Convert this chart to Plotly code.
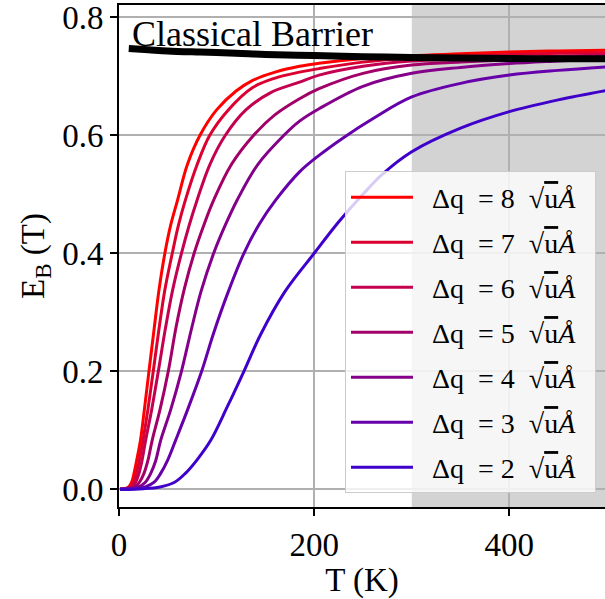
import plotly.graph_objects as go

# ---- data ----
dq_labels = ["8", "7", "6", "5", "4", "3", "2"]
colors = ["#ff0000", "#dc0030", "#c40050", "#a20068", "#84008a", "#6600aa", "#3f00cc"]

T8 = [1, 6, 10, 13, 15.4, 18, 22, 26, 30.7, 36, 41, 47, 53, 60, 70, 83, 100, 120, 137, 160, 185, 205, 250, 300, 350, 400, 450, 500]
E8 = [0, 0.001, 0.004, 0.012, 0.027, 0.048, 0.083, 0.135, 0.2, 0.272, 0.338, 0.4, 0.448, 0.49, 0.55, 0.6, 0.643, 0.675, 0.693, 0.707, 0.717, 0.722, 0.730, 0.735, 0.738, 0.741, 0.743, 0.744]

T7 = [1, 7, 11.5, 15, 17.8, 20.7, 24.6, 29.6, 35.1, 41, 47, 54.6, 61, 68, 80, 93, 112, 137, 160, 185, 205, 250, 300, 350, 400, 450, 500]
E7 = [0, 0.001, 0.004, 0.012, 0.027, 0.048, 0.083, 0.135, 0.2, 0.272, 0.338, 0.4, 0.448, 0.49, 0.55, 0.6, 0.643, 0.681, 0.697, 0.707, 0.713, 0.724, 0.731, 0.734, 0.737, 0.739, 0.740]

T6 = [1, 8, 13, 17, 20.5, 23.5, 27.3, 33.5, 40.3, 47.5, 55, 64, 72, 80, 93, 109, 130, 155, 185, 205, 250, 300, 350, 400, 450, 500]
E6 = [0, 0.001, 0.004, 0.012, 0.027, 0.048, 0.083, 0.135, 0.2, 0.272, 0.338, 0.4, 0.448, 0.49, 0.55, 0.6, 0.643, 0.672, 0.690, 0.702, 0.717, 0.726, 0.729, 0.732, 0.734, 0.736]

T5 = [1, 10, 16, 21, 25.6, 29.5, 34, 42, 50.5, 58.5, 67, 77, 87, 97, 115, 138, 160, 185, 205, 250, 300, 350, 400, 450, 500]
E5 = [0, 0.001, 0.004, 0.012, 0.027, 0.048, 0.083, 0.135, 0.2, 0.275, 0.34, 0.4, 0.448, 0.49, 0.55, 0.6, 0.635, 0.662, 0.679, 0.705, 0.719, 0.724, 0.728, 0.731, 0.734]

T4 = [1, 12, 20, 27, 32.5, 37.5, 42.7, 53, 64, 74, 84, 97, 109, 121, 142, 169, 185, 205, 250, 300, 350, 400, 450, 500]
E4 = [0, 0.001, 0.004, 0.012, 0.027, 0.048, 0.083, 0.135, 0.2, 0.27, 0.335, 0.4, 0.448, 0.49, 0.55, 0.6, 0.624, 0.645, 0.683, 0.705, 0.715, 0.7215, 0.726, 0.730]

T3 = [1, 16, 27, 36, 42.7, 50, 58, 71, 84.7, 97, 112, 128, 144, 160.5, 185, 205, 230, 260, 300, 350, 400, 450, 500]
E3 = [0, 0.001, 0.004, 0.012, 0.027, 0.05, 0.083, 0.138, 0.2, 0.265, 0.335, 0.4, 0.45, 0.49, 0.538, 0.566, 0.596, 0.628, 0.665, 0.688, 0.702, 0.71, 0.716]

T2 = [1, 25, 42, 57, 68, 80, 94, 111, 128, 145, 170, 200, 225, 250, 270, 300, 350, 400, 450, 500]
E2 = [0, 0.001, 0.004, 0.012, 0.027, 0.05, 0.083, 0.14, 0.2, 0.262, 0.335, 0.4, 0.453, 0.5, 0.534, 0.572, 0.612, 0.64, 0.66, 0.676]

T_barrier = [10, 30, 50, 83, 120, 150, 200, 250, 300, 350, 400, 450, 500]
E_barrier = [0.747, 0.745, 0.743, 0.741, 0.739, 0.737, 0.735, 0.733, 0.732, 0.731, 0.730, 0.7298, 0.7295]

series_T = [T8, T7, T6, T5, T4, T3, T2]
series_E = [E8, E7, E6, E5, E4, E3, E2]

x_ticks = [0, 200, 400]
y_ticks = [0.0, 0.2, 0.4, 0.6, 0.8]
y_tick_text = ["0.0", "0.2", "0.4", "0.6", "0.8"]
shade_range = [300, 500]

FONT = "Liberation Serif"

fig = go.Figure()

for i, (lab, T, E) in enumerate(zip(dq_labels, series_T, series_E)):
    fig.add_trace(go.Scatter(
        x=T, y=E, mode="lines",
        line=dict(color=colors[i], width=3, shape="spline", smoothing=1.0),
        name=(f"\u2002Δq\u2002=\u00a0{lab}\u2002√<span style='text-decoration:overline'>u</span>"
              f"<i>Å</i>\u2002"),
        legendgroup=f"g{i}",
    ))

fig.add_trace(go.Scatter(
    x=T_barrier, y=E_barrier, mode="lines",
    line=dict(color="black", width=7, shape="spline"),
    showlegend=False,
))

fig.add_shape(type="rect", xref="x", yref="paper",
              x0=shade_range[0], x1=shade_range[1], y0=0, y1=1,
              fillcolor="lightgray", line=dict(width=0), layer="below")

fig.add_annotation(x=11, y=0.772, xref="x", yref="y", text="Classical Barrier",
                   showarrow=False, xanchor="left", yanchor="middle",
                   font=dict(family=FONT, size=36, color="black"))

axis_common = dict(
    showline=True, linecolor="black", linewidth=2,
    ticks="outside", ticklen=7, tickwidth=2, tickcolor="black",
    showgrid=True, gridcolor="#b0b0b0", gridwidth=1.6,
    zeroline=False, automargin=False, ticklabeloverflow="allow",
    tickfont=dict(family=FONT, size=33, color="black"),
)

fig.update_xaxes(range=[0, 498], tickvals=x_ticks, mirror=True,
                 title=dict(text="T (K)", font=dict(family=FONT, size=33, color="black"), standoff=8),
                 **axis_common)
fig.update_yaxes(range=[-0.030, 0.8208], tickvals=y_ticks, ticktext=y_tick_text,
                 title=dict(text="E<sub>B</sub> (T)", font=dict(family=FONT, size=33, color="black"), standoff=8),
                 **axis_common)

fig.update_layout(
    width=605, height=599,
    margin=dict(l=119, r=0, t=5, b=92),
    plot_bgcolor="white", paper_bgcolor="white",
    legend=dict(x=0.465, y=0.027, xanchor="left", yanchor="bottom",
                bgcolor="rgba(255,255,255,0.8)", bordercolor="#cccccc", borderwidth=1,
                font=dict(family=FONT, size=28, color="black"),
                tracegroupgap=5.6, itemwidth=62, traceorder="grouped"),
)

fig.write_html("out.html")
